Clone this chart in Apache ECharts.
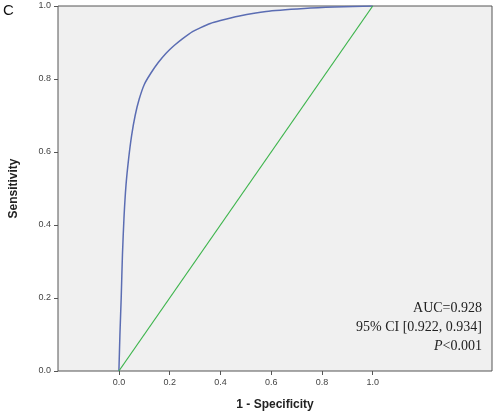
<!DOCTYPE html>
<html><head><meta charset="utf-8">
<script src="https://cdn.jsdelivr.net/npm/echarts@6/dist/echarts.min.js"></script>
<style>html,body{margin:0;padding:0;background:#fff}#c{width:500px;height:418px}</style>
</head><body><div id="c"></div>
<script>
const fpr = [0, 0.004, 0.009, 0.014, 0.02, 0.028, 0.038, 0.05, 0.064, 0.08, 0.1, 0.125, 0.155, 0.185, 0.22, 0.25, 0.29, 0.32, 0.36, 0.40, 0.47, 0.58, 0.73, 0.85, 1.0];
const tpr = [0, 0.10, 0.20, 0.32, 0.42, 0.51, 0.58, 0.645, 0.70, 0.745, 0.785, 0.815, 0.845, 0.87, 0.893, 0.91, 0.93, 0.94, 0.952, 0.96, 0.972, 0.985, 0.993, 0.997, 1.0];
const refLine = [[0, 0], [1, 1]];
const tickVals = [0, 0.2, 0.4, 0.6, 0.8, 1.0];
const annotation = ['AUC=0.928', '95% CI [0.922, 0.934]', '<0.001'];

const chart = echarts.init(document.getElementById('c'));
chart.setOption({
  animation: false,
  grid: {left: 57, right: 8, top: 6, bottom: 47, show: true, backgroundColor: '#f0f0f0', borderColor: '#555', borderWidth: 1},
  xAxis: {type: 'value', min: -0.24, max: 1.47,
    name: '1 - Specificity', nameLocation: 'middle', nameGap: 28,
    nameTextStyle: {fontFamily: 'Liberation Sans', fontWeight: 'bold', fontSize: 12, color: '#222'},
    splitLine: {show: false},
    axisLine: {show: false, onZero: false},
    axisTick: {show: true, inside: false, length: 4, customValues: tickVals, lineStyle: {color: '#555'}},
    axisLabel: {customValues: tickVals, formatter: v => v.toFixed(1), fontFamily: 'Liberation Sans', fontSize: 9, color: '#444', margin: 7}
  },
  yAxis: {type: 'value', min: 0, max: 1, interval: 0.2,
    name: 'Sensitivity', nameLocation: 'middle', nameGap: 38,
    nameTextStyle: {fontFamily: 'Liberation Sans', fontWeight: 'bold', fontSize: 12, color: '#222'},
    splitLine: {show: false},
    axisLine: {show: false, onZero: false},
    axisTick: {show: true, length: 4, lineStyle: {color: '#555'}},
    axisLabel: {formatter: v => v.toFixed(1), fontFamily: 'Liberation Sans', fontSize: 9, color: '#444', margin: 7}
  },
  series: [
    {type: 'line', data: fpr.map((x, i) => [x, tpr[i]]), showSymbol: false, smooth: 0.2,
     lineStyle: {color: '#5b6db3', width: 1.5}},
    {type: 'line', data: refLine, showSymbol: false, lineStyle: {color: '#3cb44b', width: 1.2}}
  ],
  graphic: [
    {type: 'text', left: 3, top: 3, style: {text: 'C', fontFamily: 'Liberation Sans', fontSize: 15, fill: '#111'}},
    {type: 'text', right: 18, top: 301, style: {text: annotation[0], fontFamily: 'Liberation Serif', fontSize: 14, fill: '#222', align: 'right'}},
    {type: 'text', right: 18, top: 320, style: {text: annotation[1], fontFamily: 'Liberation Serif', fontSize: 14, fill: '#222', align: 'right'}},
    {type: 'text', right: 18, top: 339, style: {text: '{i|P}' + annotation[2], fontFamily: 'Liberation Serif', fontSize: 14, fill: '#222', align: 'right',
      rich: {i: {fontStyle: 'italic', fontFamily: 'Liberation Serif', fontSize: 14, fill: '#222'}}}}
  ]
});
</script></body></html>
